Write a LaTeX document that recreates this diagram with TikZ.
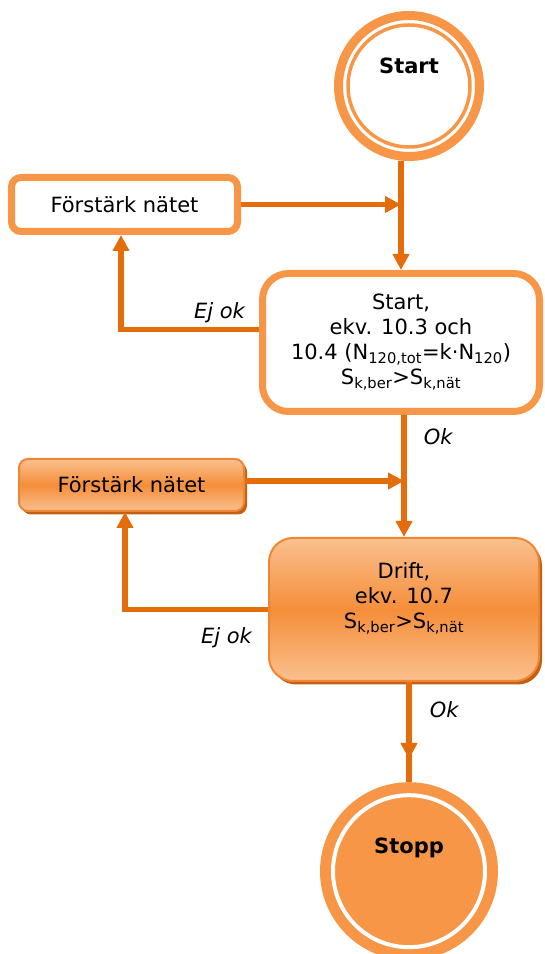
\documentclass[tikz,border=0pt]{standalone}
\usepackage{fontspec}
\setmainfont{DejaVu Sans}
\usetikzlibrary{positioning,arrows.meta,shadows}
\definecolor{RingOrange}{RGB}{247,150,70}
\definecolor{LineOrange}{RGB}{228,108,10}
\definecolor{FillLight}{RGB}{250,192,143}
\definecolor{FillDeep}{RGB}{245,142,58}
\definecolor{EdgeOrange}{RGB}{238,135,52}
\definecolor{ShadeOrange}{RGB}{196,96,18}
\newcommand{\flowfont}{\fontsize{21}{25}\selectfont}
\tikzset{
  wbox/.style={draw=RingOrange,fill=white,rounded corners=#1,line width=7pt,
               align=center,font=\flowfont,inner sep=0pt},
  wbox/.default=10pt,
  obox/.style={draw=EdgeOrange,top color=FillLight,bottom color=FillLight,
               middle color=FillDeep,rounded corners=#1,line width=2pt,
               align=center,font=\flowfont,inner sep=0pt,
               drop shadow={shadow xshift=3pt,shadow yshift=-3.5pt,
                            fill=ShadeOrange,opacity=1}},
  obox/.default=10pt,
  arr/.style={-{Triangle[length=16pt,width=16pt]},LineOrange,line width=5.5pt},
  lbl/.style={font=\flowfont\itshape,text=black,inner sep=0pt},
}

\begin{document}
\begin{tikzpicture}[
  x=1pt, y=1pt,
  startc/.style={circle, draw=RingOrange, line width=9pt, fill=white,
    minimum size=141pt, inner sep=0pt,
    path picture={\draw[RingOrange,line width=3.5pt]
      (path picture bounding box.center) circle (61pt);}},
  stopc/.style={circle, fill=RingOrange, minimum size=178pt, inner sep=0pt,
    path picture={\draw[white,line width=4pt]
      (path picture bounding box.center) circle (76pt);}},
  title/.style={font=\flowfont\bfseries}
]
\useasboundingbox (0,0) rectangle (544,954);

\node[startc, label={[title,yshift=20pt]center:Start}] (start) at (409,868) {};
\node[wbox=26pt, minimum width=277pt, minimum height=138pt,
      below=109pt of start, xshift=-8pt] (startbox)
  {Start,\\ekv. 10.3 och\\10.4 (N\textsubscript{120,tot}=k·N\textsubscript{120})\\S\textsubscript{k,ber}>S\textsubscript{k,nät}};
\node[obox=24pt, minimum width=270pt, minimum height=143pt,
      below=122pt of startbox, xshift=3pt,
      label={[align=center,font=\flowfont,yshift=11.5pt]center:{Drift,\\ekv. 10.7\\S\textsubscript{k,ber}>S\textsubscript{k,nät}}}] (driftbox) {};
\node[stopc, below=100pt of driftbox, xshift=5pt,
      label={[title,yshift=23pt]center:Stopp}] (stopp) {};
\node[wbox=9.5pt, minimum width=226pt, minimum height=54pt] (fix1) at (124.5,749.5) {Förstärk nätet};
\node[obox=9pt, minimum width=225pt, minimum height=52pt] (fix2) at (131.5,469) {Förstärk nätet};
\coordinate[above=23pt of stopp] (okstop);

\draw[arr] (start.south -| startbox.north) -- (startbox.north);
\draw[arr] (fix1.east) -- (fix1.east -| startbox.north);
\draw[arr] ([yshift=13pt]startbox.west) coordinate (ejA) -| ([xshift=-3.5pt]fix1.south);
\node[lbl, above left=6pt and 14pt of ejA] (ejoka) {Ej ok};
\draw[arr] (driftbox.north |- startbox.south) -- node[lbl, pos=0.18, right=17pt] (oka) {Ok} (driftbox.north);
\draw[arr] ([yshift=4pt]fix2.east) -- ([yshift=4pt]fix2.east -| driftbox.north);
\draw[arr] (driftbox.west) coordinate (ejB) -| ([xshift=-6.5pt]fix2.south);
\node[lbl, below left=18pt and 16pt of ejB] (ejokb) {Ej ok};
\draw[LineOrange, line width=5.5pt] (driftbox.south -| stopp.north) -- (stopp.north);
\draw[arr] (driftbox.south -| stopp.north) -- node[lbl, pos=0.36, right=18pt] (okb) {Ok} (okstop);
\end{tikzpicture}
\end{document}
